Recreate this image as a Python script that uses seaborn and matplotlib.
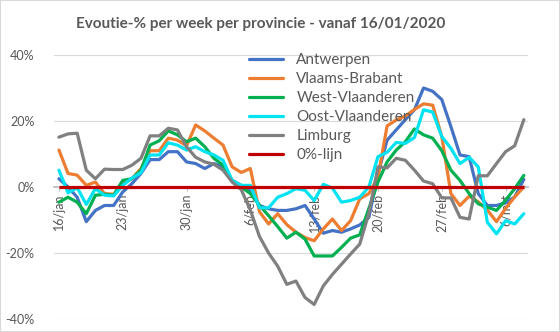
import numpy as np
import pandas as pd
import matplotlib
matplotlib.use("Agg")
import matplotlib.pyplot as plt
from matplotlib.patches import Rectangle
from matplotlib.lines import Line2D
import seaborn as sns

# Daily dates and weekly evolution (%) per province
datums = pd.date_range("2020-01-16", "2020-03-07", freq="D")

antwerpen = [2.5, 0.0, -3.1, -10.5, -7.1, -5.6, -5.6, -1.5, 1.0, 4.1,
             8.3, 8.3, 10.7, 10.7, 7.6, 7.1, 5.6, 7.1, 6.1, 2.0,
             0.5, -1.0, -5.6, -6.6, -7.1, -7.1, -6.6, -5.6, -9.7, -14.0,
             -13.2, -13.7, -12.7, -11.5, -9.2, 4.0, 14.2, 17.3, 20.4, 23.4,
             30.0, 29.0, 26.5, 18.3, 9.7, 9.2, -2.0, -5.6, -5.6, -4.8,
             -3.0, 2.3]
vlaams_brabant = [11.2, 4.1, 3.6, 0.5, 1.5, -2.0, -2.2, 1.0, 2.5, 5.6,
                  11.0, 11.0, 14.8, 14.2, 12.5, 18.8, 17.0, 14.8, 12.7, 6.1,
                  4.4, 5.6, -7.5, -11.2, -8.1, -11.4, -13.7, -15.3, -16.3, -12.7,
                  -9.7, -13.2, -10.2, -3.6, -2.0, 3.0, 18.5, 20.3, 21.5, 23.5,
                  25.2, 24.8, 15.3, -2.0, -5.6, -2.8, -4.5, -7.0, -10.5, -6.5,
                  -3.0, 0.0]
west_vlaanderen = [-4.6, -3.1, -4.6, -8.1, -2.5, -2.2, -2.5, 2.0, 2.5, 5.1,
                   12.7, 14.0, 17.0, 15.8, 13.7, 14.8, 12.2, 8.7, 6.6, 2.0,
                   0.0, -2.0, -5.5, -8.7, -12.0, -15.5, -13.7, -15.8, -20.9, -20.9,
                   -20.9, -18.3, -15.5, -14.5, -6.5, 1.5, 7.6, 11.2, 13.7, 17.6,
                   15.8, 14.8, 11.0, 5.1, 2.0, -2.0, -5.1, -6.1, -7.1, -4.0,
                   -0.5, 3.5]
oost_vlaanderen = [5.1, -1.8, -0.2, -5.3, -0.5, -2.5, -2.7, 0.5, 2.7, 4.3,
                   9.7, 9.7, 13.4, 12.7, 11.2, 12.2, 10.7, 9.7, 8.1, 2.0,
                   0.5, 0.5, -6.3, -6.3, -3.1, -2.0, -0.5, -1.0, -4.1, 0.8,
                   -0.3, -4.6, -4.1, -3.1, 0.0, 9.2, 10.5, 13.5, 13.2, 15.0,
                   23.4, 22.7, 15.3, 11.7, 7.1, 9.0, 6.1, -10.7, -14.2, -10.2,
                   -11.2, -8.1]
limburg = [15.1, 16.1, 16.3, 5.1, 2.5, 5.4, 5.3, 5.3, 6.6, 8.7,
           15.5, 15.5, 17.8, 17.3, 12.2, 9.0, 7.6, 6.9, 5.1, 1.5,
           -0.8, -7.0, -15.0, -20.0, -24.0, -29.5, -28.5, -33.5, -35.6, -30.0,
           -26.5, -23.4, -20.3, -17.3, -8.0, 6.1, 5.8, 8.7, 8.1, 5.1,
           1.8, 1.0, -3.3, -3.3, -9.2, -9.7, 3.4, 3.4, 7.1, 10.7,
           12.5, 20.4]

provincies = ["Antwerpen", "Vlaams-Brabant", "West-Vlaanderen",
              "Oost-Vlaanderen", "Limburg"]
kleuren = ["#4472C4", "#ED7D31", "#00B050", "#00E3F2", "#808080"]
nullijn_label = "0%-lijn"

tick_labels = ["16/jan", "23/jan", "30/jan", "6/feb", "13/feb", "20/feb",
               "27/feb", "6/mrt"]
y_ticks = [-40, -20, 0, 20, 40]
y_labels = ["-40%", "-20%", "0%", "20%", "40%"]

titel = "Evoutie-% per week per provincie - vanaf 16/01/2020"

reeksen = [antwerpen, vlaams_brabant, west_vlaanderen, oost_vlaanderen, limburg]
df = pd.DataFrame({
    "datum": np.tile(datums, len(provincies)),
    "provincie": np.repeat(provincies, len(datums)),
    "evolutie": np.concatenate(reeksen),
})

sns.set_theme(style="white")
plt.rcParams["font.family"] = ["Lato", "DejaVu Sans"]
tekst = "#595959"

fig = plt.figure(figsize=(5.6, 3.32), dpi=100)
ax = fig.add_axes([54 / 560, 13 / 332, 474 / 560, 264 / 332])

sns.lineplot(data=df, x="datum", y="evolutie", hue="provincie",
             hue_order=provincies, palette=kleuren, linewidth=2.3,
             sort=False, legend=False, ax=ax)
ax.hlines(0, datums[0], datums[-1], color="#C00000", linewidth=2.3, zorder=5)

ax.set_ylim(-40, 40)
ax.set_xlim(datums[0] - pd.Timedelta(hours=13), datums[-1] + pd.Timedelta(hours=11))
ax.set_yticks(y_ticks)
ax.set_yticklabels(y_labels)
ax.set_xticks(datums[::7])
ax.set_xticklabels(tick_labels)
ax.set_xlabel("")
ax.set_ylabel("")
ax.grid(axis="y", color="#d9d9d9", linewidth=0.8)
ax.grid(axis="x", visible=False)

for s in ["top", "right", "left"]:
    ax.spines[s].set_visible(False)
ax.spines["bottom"].set_position(("data", 0))
ax.spines["bottom"].set_color("#bfbfbf")
ax.tick_params(axis="x", length=3, width=0.8, color="#bfbfbf", pad=2,
               labelsize=9, labelcolor=tekst, bottom=True, labelrotation=90)
ax.tick_params(axis="y", length=0, pad=14, labelsize=9, labelcolor=tekst)
for lbl in ax.get_xticklabels():
    lbl.set_rotation(90)
    lbl.set_verticalalignment("top")
    lbl.set_horizontalalignment("center")
for lbl in ax.get_yticklabels():
    lbl.set_horizontalalignment("right")

handles = list(ax.get_lines())[:len(provincies)]
handles.append(Line2D([], [], color="#C00000", linewidth=2.3))
labels = provincies + [nullijn_label]
leg = ax.legend(handles, labels, loc="upper left",
                bbox_to_anchor=(249 / 560, 1 - 53 / 332),
                bbox_transform=fig.transFigure, frameon=False,
                fontsize=11, handlelength=2.2, handletextpad=0.9,
                labelspacing=0.33, borderpad=0, borderaxespad=0)
for t in leg.get_texts():
    t.set_color(tekst)

fig.text(261 / 560, 1 - 24 / 332, titel, ha="center", va="center",
         fontsize=11, fontweight="bold", color=tekst)

fig.patches.append(Rectangle((0, 0), 1, 1, transform=fig.transFigure,
                             fill=False, edgecolor="#d9d9d9", linewidth=1.5))

fig.savefig("out.png", dpi=100)
